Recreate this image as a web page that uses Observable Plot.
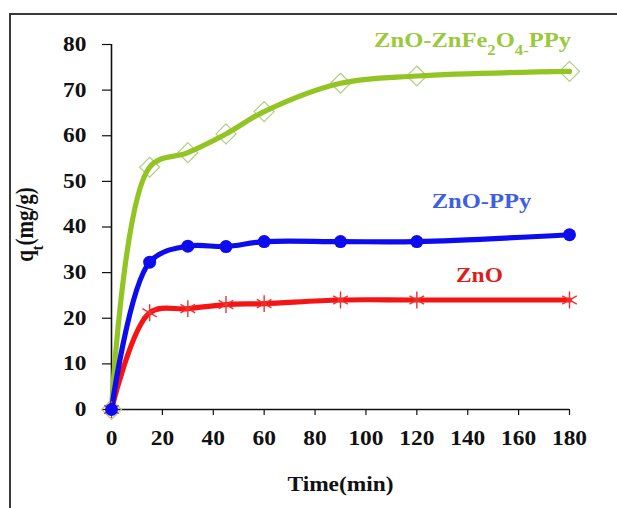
<!DOCTYPE html>
<html>
<head>
<meta charset="utf-8">
<script src="https://cdn.jsdelivr.net/npm/d3@7"></script>
<script src="https://cdn.jsdelivr.net/npm/@observablehq/plot@0.6"></script>
<style>
  html, body { margin: 0; padding: 0; background: #fff; }
  #wrap { position: relative; width: 617px; height: 508px; overflow: hidden; }
  #frame { position: absolute; left: 9px; top: 13px; width: 700px; height: 600px;
           border-left: 2px solid #3a3a3a; border-top: 2px solid #3a3a3a; pointer-events: none; }
  #chart { position: absolute; left: 0; top: 0; }
</style>
</head>
<body>
<div id="wrap"><div id="chart"></div><div id="frame"></div></div>
<script>
// ---- data ----
const times = [0, 15, 30, 45, 60, 90, 120, 180];
const qZnO = [0, 21.2, 22.1, 23, 23.2, 24, 24, 24];
const qZnOPPy = [0, 32.3, 35.8, 35.7, 36.8, 36.8, 36.8, 38.3];
const qZnOZnFePPy = [0, 53.1, 56.3, 60.4, 65.3, 71.5, 73.1, 74.1];
const seriesNames = ["ZnO", "ZnO-PPy", "ZnO-ZnFe2O4-PPy"];
const xTicks = [0, 20, 40, 60, 80, 100, 120, 140, 160, 180];
const yTicks = [0, 10, 20, 30, 40, 50, 60, 70, 80];
const xLabel = "Time(min)";
const yLabel = "qt(mg/g)";

// ---- build long table ----
const valuesBySeries = [qZnO, qZnOPPy, qZnOZnFePPy];
const rows = [];
seriesNames.forEach((name, i) => times.forEach((t, j) => rows.push({series: name, t, q: valuesBySeries[i][j]})));
const bySeries = name => rows.filter(r => r.series === name);
const lastOf = name => bySeries(name)[times.length - 1];

const lineColor = {"ZnO": "#f41414", "ZnO-PPy": "#0c0cee", "ZnO-ZnFe2O4-PPy": "#93c522"};
const labelColor = {"ZnO": "#e01c1c", "ZnO-PPy": "#3f5fe2", "ZnO-ZnFe2O4-PPy": "#9ac93c"};
const labelX = {"ZnO": 144.6, "ZnO-PPy": 145.4, "ZnO-ZnFe2O4-PPy": 141.9};
const labelDy = {"ZnO": -24.5, "ZnO-PPy": -33, "ZnO-ZnFe2O4-PPy": -31};

const font = "'Liberation Serif', 'Times New Roman', serif";

const plot = Plot.plot({
  width: 617,
  height: 508,
  marginLeft: 111,
  marginRight: 48,
  marginTop: 44,
  marginBottom: 99,
  style: {fontFamily: font, fontWeight: "bold", fontSize: "20px", color: "#111", background: "transparent"},
  x: {domain: [0, 180], ticks: xTicks},
  y: {domain: [0, 80], ticks: yTicks},
  marks: [
    Plot.axisX({ticks: xTicks, tickSize: 6, tickPadding: 15, label: null, stroke: "#111", strokeWidth: 1.2}),
    Plot.axisY({ticks: yTicks, tickSize: 9, tickPadding: 16, label: null, stroke: "#111", strokeWidth: 1.2}),
    Plot.ruleY([0], {stroke: "#111", strokeWidth: 1.6}),
    Plot.ruleX([0], {stroke: "#111", strokeWidth: 1.6}),
    // green hollow diamonds (under line)
    Plot.dot(bySeries("ZnO-ZnFe2O4-PPy"), {x: "t", y: "q", symbol: "diamond2", r: 9, stroke: "#b0cd86", strokeWidth: 1.2, fill: "none"}),
    // lines
    Plot.line(bySeries("ZnO-ZnFe2O4-PPy"), {x: "t", y: "q", stroke: lineColor["ZnO-ZnFe2O4-PPy"], strokeWidth: 5.2, curve: "catmull-rom"}),
    Plot.line(bySeries("ZnO"), {x: "t", y: "q", stroke: lineColor["ZnO"], strokeWidth: 5.2, curve: "catmull-rom"}),
    Plot.line(bySeries("ZnO-PPy"), {x: "t", y: "q", stroke: lineColor["ZnO-PPy"], strokeWidth: 5.2, curve: "catmull-rom"}),
    // markers
    Plot.dot(bySeries("ZnO"), {x: "t", y: "q", symbol: "asterisk", r: 8, stroke: "#f03030", strokeWidth: 1.4}),
    Plot.dot(bySeries("ZnO-PPy"), {x: "t", y: "q", symbol: "circle", r: 6.5, fill: lineColor["ZnO-PPy"], stroke: "none"}),
    // series labels
    ...seriesNames.map(name => Plot.text([lastOf(name)], {
      x: () => labelX[name], y: "q", text: () => name, dy: labelDy[name],
      fill: labelColor[name], fontSize: name === "ZnO" ? 20 : 21, fontWeight: "bold"
    })),
    // axis titles
    Plot.text([xLabel], {frameAnchor: "bottom", text: d => d, dy: 81, fontSize: 20, fontWeight: "bold", fill: "#111"}),
    Plot.text([yLabel], {frameAnchor: "left", textAnchor: "middle", text: d => d, rotate: -90, dx: -86, dy: -2.5, fontSize: 21, fontWeight: "bold", fill: "#111"})
  ]
});

document.getElementById("chart").append(plot);

// rich text: subscripts, and the reference's slightly wide glyphs
function richify(textEl, parts) {
  const sel = d3.select(textEl);
  sel.text(null);
  parts.forEach(([s, sub]) => {
    const ts = sel.append("tspan").text(s);
    if (sub) ts.attr("font-size", "0.68em").attr("baseline-shift", "sub");
  });
}
d3.select(plot).selectAll("text").each(function () {
  const t = this.textContent;
  const tr = this.getAttribute("transform") || "";
  if (t === "ZnO-ZnFe2O4-PPy") richify(this, [["ZnO-ZnFe", false], ["2", true], ["O", false], ["4-", true], ["PPy", false]]);
  if (t === "qt(mg/g)") {
    richify(this, [["q", false], ["t", true], ["(mg/g)", false]]);
    this.setAttribute("transform", tr + " scale(1,1.15)");
  } else {
    this.setAttribute("transform", tr + " scale(1.17,1)");
  }
});
</script>
</body>
</html>
